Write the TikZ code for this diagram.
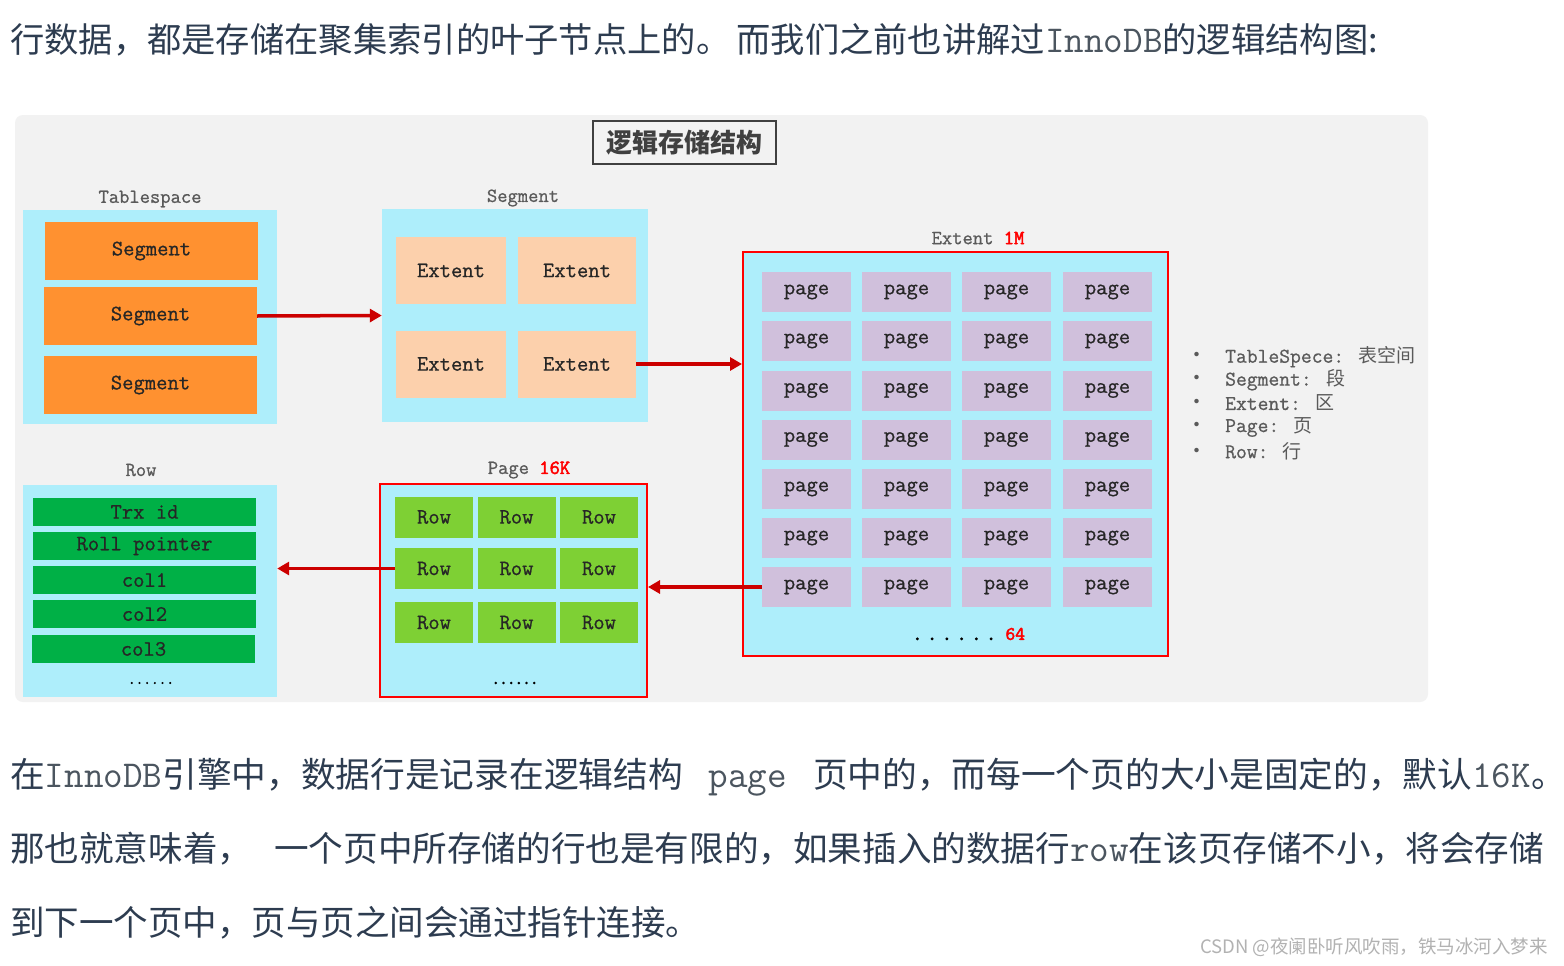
\documentclass[tikz,border=0pt]{standalone}
\usepackage{fontspec}
\usetikzlibrary{arrows.meta}
\newfontfamily\cjk{Noto Sans CJK SC}
\newfontfamily\diafont{Latin Modern Mono}[FakeBold=0.8]
\newfontfamily\boldmono{Latin Modern Mono}[FakeBold=2.5]
\newfontfamily\dotfont{Latin Modern Mono}[FakeBold=5]
\newcommand\monotxt[1]{{\fontsize{38}{38}\selectfont\ttfamily\color{codegray}#1}}
\newcommand\itemfont{\diafont\fontsize{22}{22}\selectfont}
\newcommand\lblfont{\diafont\fontsize{20}{20}\selectfont}
\definecolor{txt}{RGB}{45,60,80}
\definecolor{codegray}{RGB}{75,85,95}
\definecolor{markgray}{RGB}{178,178,178}
\definecolor{panelgray}{RGB}{242,242,242}
\definecolor{cyanbg}{RGB}{174,238,251}
\definecolor{segorange}{RGB}{255,145,48}
\definecolor{extpeach}{RGB}{252,208,172}
\definecolor{pagelilac}{RGB}{208,192,220}
\definecolor{fieldgreen}{RGB}{0,176,70}
\definecolor{rowgreen}{RGB}{126,208,52}
\definecolor{arrowred}{RGB}{204,0,0}
\definecolor{framered}{RGB}{255,0,0}
\definecolor{lblgray}{RGB}{90,90,90}
\definecolor{itemtxt}{RGB}{38,38,38}
\definecolor{titlegray}{RGB}{64,64,64}
\tikzset{
  container/.style={fill=cyanbg,inner sep=0pt},
  redframe/.style={draw=framered,line width=2pt},
  segcell/.style={fill=segorange,minimum width=213pt,minimum height=58pt,font=\itemfont,text=itemtxt},
  extcell/.style={fill=extpeach,minimum height=67pt,font=\itemfont,text=itemtxt},
  pagecell/.style={fill=pagelilac,minimum width=89pt,minimum height=40pt,font=\itemfont,text=itemtxt},
  rowcell/.style={fill=rowgreen,minimum width=78pt,minimum height=41pt,font=\itemfont,text=itemtxt},
  fieldcell/.style={fill=fieldgreen,minimum width=223pt,minimum height=28pt,font=\itemfont,text=itemtxt},
  lbl/.style={font=\lblfont,text=lblgray},
  legend/.style={anchor=west,font=\diafont\fontsize{21}{21}\selectfont,text=lblgray,inner sep=0pt},
  para/.style={anchor=base west,inner sep=0pt,text=txt},
  flow/.style={draw=arrowred,line width=3.5pt,-{Triangle[length=12pt,width=13pt]}}
}
\begin{document}
\begin{tikzpicture}[x=1pt,y=-1pt]
\useasboundingbox[fill=white] (0,0) rectangle (1564,966);

% text around the figure
\node[para,font=\cjk\fontsize{34.3}{40}\selectfont] (intro) at (10,53) {行数据，都是存储在聚集索引的叶子节点上的。\hspace{6pt}而我们之前也讲解过\monotxt{InnoDB}的逻辑结构图:};
\node[para,font=\cjk\fontsize{34.7}{40}\selectfont] (lineA) at (10,787) {在\monotxt{InnoDB}引擎中，数据行是记录在逻辑结构\hspace{26pt}\monotxt{page}\hspace{26pt}页中的，而每一个页的大小是固定的，默认\monotxt{16K}。};
\node[para,font=\cjk\fontsize{34.6}{40}\selectfont] (lineB) at (10,861) {那也就意味着，\hspace{22pt}一个页中所存储的行也是有限的，如果插入的数据行\monotxt{row}在该页存储不小，将会存储};
\node[para,font=\cjk\fontsize{34.5}{40}\selectfont] (lineC) at (10,935) {到下一个页中，页与页之间会通过指针连接。};
\node[anchor=base east,inner sep=0pt,text=markgray,font=\cjk\fontsize{18.5}{20}\selectfont] (mark) at (1548,953) {CSDN @夜阑卧听风吹雨，铁马冰河入梦来};

% panel
\fill[panelgray,rounded corners=8pt] (15,115) rectangle (1428,702);
\node[draw=titlegray,line width=1.5pt,minimum width=183pt,minimum height=43pt,text=titlegray,font=\cjk\bfseries\fontsize{26}{26}\selectfont] (title) at (684.5,142.5) {逻辑存储结构};

% Tablespace
\node[lbl] (tslbl) at (150,199) {Tablespace};
\node[container,minimum width=254pt,minimum height=214pt] (tsbox) at (150,317) {};
\node[segcell] (s1) at (151.5,251) {Segment};
\node[segcell] (s2) at (150.5,316) {Segment};
\node[segcell] (s3) at (150.5,385) {Segment};

% Segment
\node[lbl] (seglbl) at (523,198) {Segment};
\node[container,minimum width=266pt,minimum height=213pt] (segbox) at (515,315.5) {};
\node[extcell,minimum width=110pt] (e1) at (451,270.5) {Extent};
\node[extcell,minimum width=118pt] (e2) at (577,270.5) {Extent};
\node[extcell,minimum width=110pt] (e3) at (451,364) {Extent};
\node[extcell,minimum width=118pt] (e4) at (577,364) {Extent};

% Extent
\node[lbl] (extlbl) at (978,238) {Extent {\boldmono\color{framered}1M}};
\node[container,redframe,minimum width=425pt,minimum height=404pt] (extbox) at (955.5,454) {};
\node[pagecell] (p11) at (806.5,292) {page};
\node[pagecell] (p12) at (906.5,292) {page};
\node[pagecell] (p13) at (1006.5,292) {page};
\node[pagecell] (p14) at (1107.5,292) {page};
\node[pagecell] (p21) at (806.5,341) {page};
\node[pagecell] (p22) at (906.5,341) {page};
\node[pagecell] (p23) at (1006.5,341) {page};
\node[pagecell] (p24) at (1107.5,341) {page};
\node[pagecell] (p31) at (806.5,390.5) {page};
\node[pagecell] (p32) at (906.5,390.5) {page};
\node[pagecell] (p33) at (1006.5,390.5) {page};
\node[pagecell] (p34) at (1107.5,390.5) {page};
\node[pagecell] (p41) at (806.5,439.5) {page};
\node[pagecell] (p42) at (906.5,439.5) {page};
\node[pagecell] (p43) at (1006.5,439.5) {page};
\node[pagecell] (p44) at (1107.5,439.5) {page};
\node[pagecell] (p51) at (806.5,489) {page};
\node[pagecell] (p52) at (906.5,489) {page};
\node[pagecell] (p53) at (1006.5,489) {page};
\node[pagecell] (p54) at (1107.5,489) {page};
\node[pagecell] (p61) at (806.5,538) {page};
\node[pagecell] (p62) at (906.5,538) {page};
\node[pagecell] (p63) at (1006.5,538) {page};
\node[pagecell] (p64) at (1107.5,538) {page};
\node[pagecell] (p71) at (806.5,587) {page};
\node[pagecell] (p72) at (906.5,587) {page};
\node[pagecell] (p73) at (1006.5,587) {page};
\node[pagecell] (p74) at (1107.5,587) {page};
\node[font=\dotfont\fontsize{17}{17}\selectfont] (pagedots) at (969,634) {.\hspace{6pt}.\hspace{6pt}.\hspace{6pt}.\hspace{6pt}.\hspace{6pt}.\hspace{10pt}{\boldmono\fontsize{19}{19}\selectfont\color{framered}64}};

% Page
\node[lbl] (pglbl) at (529,470) {Page {\boldmono\color{framered}16K}};
\node[container,redframe,minimum width=267pt,minimum height=213pt] (pagebox) at (513.5,590.5) {};
\node[rowcell] (r11) at (434,517) {Row};
\node[rowcell] (r12) at (516.5,517) {Row};
\node[rowcell] (r13) at (599,517) {Row};
\node[rowcell] (r21) at (434,568.5) {Row};
\node[rowcell] (r22) at (516.5,568.5) {Row};
\node[rowcell] (r23) at (599,568.5) {Row};
\node[rowcell] (r31) at (434,622.5) {Row};
\node[rowcell] (r32) at (516.5,622.5) {Row};
\node[rowcell] (r33) at (599,622.5) {Row};
\node[font=\dotfont\fontsize{15}{15}\selectfont] (rowdots) at (515,683) {......};

% Row
\node[lbl] (rowlbl) at (141,470) {Row};
\node[container,minimum width=254pt,minimum height=212pt] (rowbox) at (150,591) {};
\node[fieldcell] (f1) at (144.5,512) {Trx id};
\node[fieldcell] (f2) at (144.5,546) {Roll pointer};
\node[fieldcell] (f3) at (144.5,580) {col1};
\node[fieldcell] (f4) at (144.5,614) {col2};
\node[fieldcell] (f5) at (143.5,649) {col3};
\node[font=\boldmono\fontsize{15}{15}\selectfont] (fielddots) at (151,683) {......};

% legend
\node[legend] (lg1) at (1186,357) {\makebox[39pt][l]{\cjk •}TableSpece: {\cjk\fontsize{19}{19}\selectfont 表空间}};
\node[legend] (lg2) at (1186,380) {\makebox[39pt][l]{\cjk •}Segment: {\cjk\fontsize{19}{19}\selectfont 段}};
\node[legend] (lg3) at (1186,403) {\makebox[39pt][l]{\cjk •}Extent: {\cjk\fontsize{19}{19}\selectfont 区}};
\node[legend] (lg4) at (1186,427) {\makebox[39pt][l]{\cjk •}Page: {\cjk\fontsize{19}{19}\selectfont 页}};
\node[legend] (lg5) at (1186,451) {\makebox[39pt][l]{\cjk •}Row: {\cjk\fontsize{19}{19}\selectfont 行}};

% arrows
\draw[flow] (s2.east) -- (segbox.west);
\draw[flow] (e4.east) -- (e4.east -| extbox.west);
\draw[flow] (p71.west) -- (p71.west -| pagebox.east);
\draw[flow] (r21.west) -- (r21.west -| rowbox.east);
\end{tikzpicture}
\end{document}
